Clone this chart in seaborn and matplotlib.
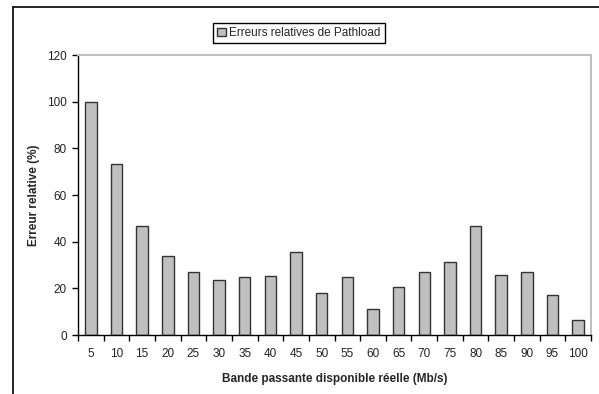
import matplotlib
matplotlib.use("Agg")
import matplotlib.pyplot as plt
import seaborn as sns
import pandas as pd
from matplotlib.lines import Line2D
from matplotlib.patches import Patch

# bande passante reelle (Mb/s) et erreur relative de Pathload (%)
bande = [5, 10, 15, 20, 25, 30, 35, 40, 45, 50,
         55, 60, 65, 70, 75, 80, 85, 90, 95, 100]
erreur = [100, 73.5, 46.9, 33.9, 27.2, 23.5, 24.8, 25.2, 35.6, 17.8,
          24.8, 11.1, 20.7, 27.2, 31.5, 46.8, 25.7, 26.8, 17.0, 6.5]

df = pd.DataFrame({"bande": [str(b) for b in bande], "erreur": erreur})

sns.set_style("white")
plt.rcParams['font.family'] = ['Liberation Sans', 'DejaVu Sans']

W, H = 599, 394
fig = plt.figure(figsize=(W / 100, H / 100), dpi=100)
ax = fig.add_axes([78 / W, 1 - 335 / H, (591 - 78) / W, (335 - 55) / H])

sns.barplot(data=df, x="bande", y="erreur", color="#c0c0c0", saturation=1,
            width=0.45, edgecolor="#333333", linewidth=1, ax=ax)

# excel style axes
ax.set_xlim(-0.5, len(bande) - 0.5)
ax.set_ylim(0, 120)
ax.set_yticks(range(0, 121, 20))
ax.set_xticks([i - 0.5 for i in range(len(bande) + 1)])
ax.set_xticklabels([])
ax.set_xticks(range(len(bande)), minor=True)
ax.set_xticklabels(df["bande"], minor=True)
ax.tick_params(axis="x", which="major", direction="out", length=4, width=1,
               color="black", bottom=True)
ax.tick_params(axis="x", which="minor", length=0, pad=9.5, labelsize=8.5)
ax.tick_params(axis="y", direction="out", length=4, width=1, color="black",
               left=True, labelsize=8.5, pad=4)
for lab in ax.get_xticklabels(minor=True) + ax.get_yticklabels():
    lab.set_color("#222222")

for s in ["top", "right"]:
    ax.spines[s].set_color("#c0c0c0")
    ax.spines[s].set_linewidth(1.5)
for s in ["left", "bottom"]:
    ax.spines[s].set_color("black")
    ax.spines[s].set_linewidth(1)

ax.set_xlabel("Bande passante disponible réelle (Mb/s)", fontsize=8.5,
              fontweight="bold")
ax.set_ylabel("Erreur relative (%)", fontsize=8.5, fontweight="bold")
ax.xaxis.set_label_coords(0.5, (335 - 373) / 280)
ax.yaxis.set_label_coords((40 - 78) / 513, 0.5)

# legend above the plot
handle = Patch(facecolor="#c0c0c0", edgecolor="#333333", linewidth=1)
fig.legend([handle], ["Erreurs relatives de Pathload"], loc="center",
           bbox_to_anchor=(299 / W, 1 - 33 / H), fontsize=8.5,
           frameon=True, fancybox=False, edgecolor="black", framealpha=1,
           handlelength=0.7, handleheight=0.7, handletextpad=0.3,
           borderpad=0.35, borderaxespad=0)

# chart frame
fig.add_artist(Line2D([13 / W, 13 / W], [0, 1 - 7 / H],
                      color="black", linewidth=1.2, transform=fig.transFigure))
fig.add_artist(Line2D([13 / W, 1], [1 - 7 / H, 1 - 7 / H],
                      color="black", linewidth=1.2, transform=fig.transFigure))

fig.savefig("out.png", dpi=100, facecolor="white")
